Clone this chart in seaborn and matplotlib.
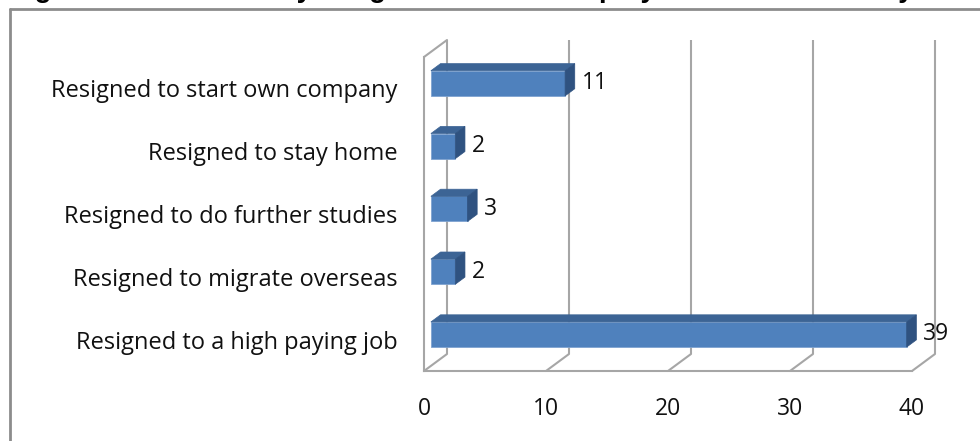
import matplotlib
matplotlib.use("Agg")
import matplotlib.pyplot as plt
import matplotlib.transforms as mtrans
from matplotlib.patches import Polygon
from matplotlib.lines import Line2D
import numpy as np
import pandas as pd
import seaborn as sns

# Survey results: reasons graduates resigned from their employment
reasons = [
    "Resigned to start own company",
    "Resigned to stay home",
    "Resigned to do further studies",
    "Resigned to migrate overseas",
    "Resigned to a high paying job",
]
counts = [11, 2, 3, 2, 39]
x_ticks = [0, 10, 20, 30, 40]
title = "Figure 4: Reasons why the graduates left employment in the country"

sns.set_style("white")
plt.rcParams["font.family"] = ["Open Sans", "DejaVu Sans"]

W, H, DPI = 980, 441, 100
fig = plt.figure(figsize=(W / DPI, H / DPI), dpi=DPI)

# front plane of the pseudo-3D plot area, in pixels
left_px, right_px, top_px, bottom_px = 424, 912, 57, 371
ax = fig.add_axes([left_px / W, 1 - bottom_px / H,
                   (right_px - left_px) / W, (bottom_px - top_px) / H])

df = pd.DataFrame({"reason": reasons, "count": counts})
sns.barplot(data=df, x="count", y="reason", orient="h", color="#4F81BD",
            saturation=1, width=0.4, ax=ax, zorder=3)

ax.set_xlim(0, 40)
ax.set_ylim(len(reasons) - 0.5, -0.5)
ax.set_xlabel("")
ax.set_ylabel("")

grid_c = "#A6A6A6"
lw = 1.5
txt_c = "#111111"

# depth of the box and of the bars (pixel offsets, display coordinates)
depth = np.array([23.0, 17.0])
bar_front = depth * 0.30
bar_back = depth * 0.72

for s in ["top", "right"]:
    ax.spines[s].set_visible(False)
for s in ["left", "bottom"]:
    ax.spines[s].set_color(grid_c)
    ax.spines[s].set_linewidth(lw)

ax.set_xticks(x_ticks)
ax.set_xticklabels([str(t) for t in x_ticks], fontsize=16.5, color=txt_c)
ax.tick_params(axis="x", length=5, width=lw, color=grid_c, pad=14)

ax.set_yticks(range(len(reasons)))
ax.set_yticklabels(reasons, fontsize=17, color=txt_c)
ax.set_yticks(np.arange(-0.5, len(reasons), 1.0), minor=True)
ax.tick_params(axis="y", which="major", length=0, pad=19)
ax.tick_params(axis="y", which="minor", length=6, width=lw, color=grid_c)

# back wall gridlines
back_tr = mtrans.offset_copy(ax.transData, fig=fig, x=depth[0], y=depth[1], units="dots")
ylo, yhi = ax.get_ylim()
ax.vlines(x_ticks, ylo, yhi, colors=grid_c, linewidth=lw, transform=back_tr,
          clip_on=False, zorder=1)

to_disp = ax.transData.transform
ident = mtrans.IdentityTransform()

# floor diagonals and top edge of the side wall
for xv in x_ticks:
    p = to_disp((xv, ylo))
    fig.add_artist(Line2D([p[0], p[0] + depth[0]], [p[1], p[1] + depth[1]],
                          color=grid_c, linewidth=lw, transform=ident, zorder=1))
p = to_disp((0, yhi))
fig.add_artist(Line2D([p[0], p[0] + depth[0]], [p[1], p[1] + depth[1]],
                      color=grid_c, linewidth=lw, transform=ident, zorder=1))

# bars: shift front faces into depth, then add top and side faces
front_tr = mtrans.offset_copy(ax.transData, fig=fig, x=bar_front[0], y=bar_front[1], units="dots")
top_c, side_c = "#3C6495", "#2F5280"
for patch, val in zip(ax.patches, counts):
    bx, by = patch.get_x(), patch.get_y()
    bw, bh = patch.get_width(), patch.get_height()
    patch.set_transform(front_tr)
    patch.set_edgecolor("#7FA3D0")
    patch.set_linewidth(0.6)
    a = to_disp((bx, by))
    b = to_disp((bx + bw, by + bh))
    xl, xr = a[0], b[0]
    yt, yb = max(a[1], b[1]), min(a[1], b[1])
    fx, fy = bar_front
    kx, ky = bar_back
    top = Polygon([(xl + fx, yt + fy), (xr + fx, yt + fy), (xr + kx, yt + ky), (xl + kx, yt + ky)],
                  closed=True, facecolor=top_c, edgecolor=top_c, linewidth=0.5,
                  transform=ident, zorder=3)
    side = Polygon([(xr + fx, yt + fy), (xr + fx, yb + fy), (xr + kx, yb + ky), (xr + kx, yt + ky)],
                   closed=True, facecolor=side_c, edgecolor=side_c, linewidth=0.5,
                   transform=ident, zorder=3)
    fig.add_artist(top)
    fig.add_artist(side)

# value labels at the end of each bar
lab_tr = mtrans.offset_copy(ax.transData, fig=fig, x=bar_back[0] + 7, y=bar_front[1], units="dots")
for i, val in enumerate(counts):
    ax.text(val, i, str(val), transform=lab_tr, ha="left", va="center",
            fontsize=16.5, color=txt_c, clip_on=False, zorder=4)

# chart frame
frame_c = "#8C8C8C"
fig.add_artist(Line2D([10, W], [H - 9, H - 9], color=frame_c, linewidth=2, transform=ident))
fig.add_artist(Line2D([10, 10], [0, H - 9], color=frame_c, linewidth=2, transform=ident))

# figure caption running off the top edge
fig.text(10 / W, 1 + 3 / H, title, ha="left", va="baseline", fontsize=20,
         fontweight="bold", family=["Liberation Sans", "DejaVu Sans"], color="black")

fig.savefig("out.png", dpi=DPI)
